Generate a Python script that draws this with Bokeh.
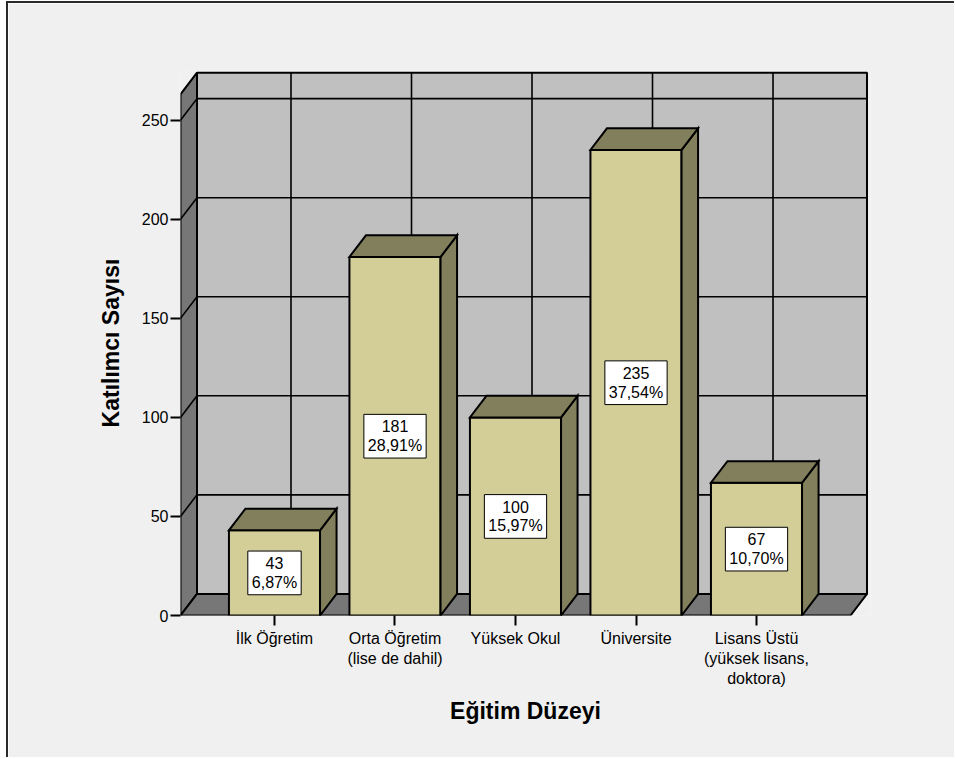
from bokeh.plotting import figure
from bokeh.models import FixedTicker
from bokeh.core.properties import value
from bokeh.embed import file_html
from bokeh.resources import INLINE

# Education level of survey participants
CATEGORIES = [
    "İlk Öğretim",
    "Orta Öğretim\n(lise de dahil)",
    "Yüksek Okul",
    "Üniversite",
    "Lisans Üstü\n(yüksek lisans,\ndoktora)",
]
COUNTS = [43, 181, 100, 235, 67]
PERCENTS = ["6,87%", "28,91%", "15,97%", "37,54%", "10,70%"]
Y_TICKS = [0, 50, 100, 150, 200, 250]

FONT = "Liberation Sans"
BAR_FRONT = "#D3CE98"
BAR_SHADE = "#827F5C"
WALL_BACK = "#C0C0C0"
WALL_DARK = "#777777"
PAGE_BG = "#F0F0F0"

# geometry of the pseudo-3D box (data units)
DX = 0.137          # depth offset along x
DY = 10.9           # depth offset along y
HALF_W = 0.378      # half width of a bar
X_LEFT = -0.78      # front-left edge of the floor
X_RIGHT = 4.78      # front-right edge of the floor
WALL_TOP = 274      # top of the back wall

p = figure(
    width=948, height=756,
    x_range=(X_LEFT, 4.946), y_range=(0, 275.1),
    output_backend="svg", toolbar_location=None,
    min_border_left=172, min_border_right=86,
    min_border_top=67, min_border_bottom=144,
    background_fill_color=PAGE_BG, border_fill_color=PAGE_BG,
    outline_line_color=None,
)
p.styles = {
    "margin-left": "6px", "margin-top": "1px",
    "border-left": "2px solid #2a2a2a", "border-top": "2px solid #2a2a2a",
}
p.grid.visible = False

# back wall
p.quad(left=X_LEFT + DX, right=X_RIGHT + DX, bottom=DY, top=WALL_TOP,
       fill_color=WALL_BACK, line_color="black", line_width=2)
# left wall
p.patch([X_LEFT, X_LEFT, X_LEFT + DX, X_LEFT + DX],
        [0, WALL_TOP - DY, WALL_TOP, DY],
        fill_color=WALL_DARK, line_color="black", line_width=2)
# floor
p.patch([X_LEFT, X_RIGHT, X_RIGHT + DX, X_LEFT + DX],
        [0, 0, DY, DY],
        fill_color=WALL_DARK, line_color="black", line_width=2)

# grid on the walls
grid_vals = [v for v in Y_TICKS if v > 0]
p.segment(x0=[X_LEFT + DX] * len(grid_vals), x1=[X_RIGHT + DX] * len(grid_vals),
          y0=[v + DY for v in grid_vals], y1=[v + DY for v in grid_vals],
          line_color="black", line_width=1.6)
p.segment(x0=[X_LEFT] * len(grid_vals), x1=[X_LEFT + DX] * len(grid_vals),
          y0=grid_vals, y1=[v + DY for v in grid_vals],
          line_color="black", line_width=1.6)
idx = list(range(len(CATEGORIES)))
p.segment(x0=[i + DX for i in idx], x1=[i + DX for i in idx],
          y0=[DY] * len(idx), y1=[WALL_TOP] * len(idx),
          line_color="black", line_width=1.6)

# bars: front face, right side, top
p.quad(left=[i - HALF_W for i in idx], right=[i + HALF_W for i in idx],
       bottom=0, top=COUNTS,
       fill_color=BAR_FRONT, line_color="black", line_width=2)
side_xs = [[i + HALF_W, i + HALF_W + DX, i + HALF_W + DX, i + HALF_W] for i in idx]
side_ys = [[0, DY, c + DY, c] for c in COUNTS]
top_xs = [[i - HALF_W, i + HALF_W, i + HALF_W + DX, i - HALF_W + DX] for i in idx]
top_ys = [[c, c, c + DY, c + DY] for c in COUNTS]
p.patches(side_xs + top_xs, side_ys + top_ys,
          fill_color=BAR_SHADE, line_color="black", line_width=2,
          line_join="miter")

# value boxes
p.text(x=idx, y=[c / 2 for c in COUNTS],
       text=[f"{c}\n{pc}" for c, pc in zip(COUNTS, PERCENTS)],
       text_align="center", text_baseline="middle",
       text_font=value(FONT), text_font_size="16px", text_color="black",
       text_line_height=1.1,
       background_fill_color="white", border_line_color="black",
       border_line_width=1, padding=4)

# axes
p.xaxis.ticker = FixedTicker(ticks=idx)
p.xaxis.major_label_overrides = {i: name for i, name in zip(idx, CATEGORIES)}
p.yaxis.ticker = FixedTicker(ticks=Y_TICKS)
for ax in (p.xaxis[0], p.yaxis[0]):
    ax.axis_line_color = None
    ax.major_tick_line_color = "black"
    ax.major_tick_line_width = 2
    ax.major_tick_in = 0
    ax.major_tick_out = 10
    ax.minor_tick_line_color = None
    ax.major_label_text_font = FONT
    ax.major_label_text_font_size = "16px"
    ax.major_label_text_color = "black"
    ax.axis_label_text_font = FONT
    ax.axis_label_text_font_size = "23px"
    ax.axis_label_text_font_style = "bold"
    ax.axis_label_text_color = "black"
p.xaxis.major_label_standoff = 4
p.yaxis.major_label_standoff = 2
p.xaxis.axis_label = "Eğitim Düzeyi"
p.yaxis.axis_label = "Katılımcı Sayısı"
p.xaxis.axis_label_standoff = 8
p.yaxis.axis_label_standoff = 15

open("out.html", "w").write(file_html(p, INLINE))
